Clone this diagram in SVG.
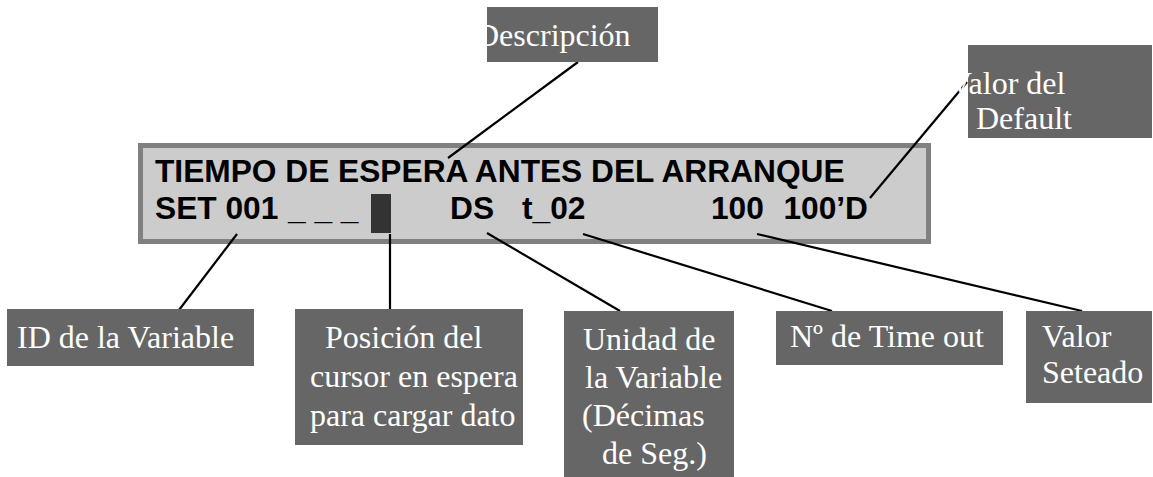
<svg xmlns="http://www.w3.org/2000/svg" width="1153" height="477" viewBox="0 0 1153 477">
<style>
.lbl{fill:#666666}
.lt{font-family:"Liberation Serif","Times New Roman",serif;font-size:32px;fill:#ffffff}
.lcd{font-family:"Liberation Sans",Arial,sans-serif;font-size:31.7px;font-weight:bold;fill:#000000}
.con line{stroke:#000000;stroke-width:2.2}
</style>
<rect width="1153" height="477" fill="#ffffff"/>
<g id="lcd">
<rect x="138" y="143" width="793" height="101" fill="#808080"/>
<rect x="143" y="148" width="783" height="91" fill="#cccccc"/>
<text class="lcd" x="155" y="182">TIEMPO DE ESPERA ANTES DEL ARRANQUE</text>
<text class="lcd" x="155" y="219">SET 001</text>
<text class="lcd" x="288" y="219">_ _ _</text>
<rect x="371" y="194" width="20" height="39" fill="#333333"/>
<text class="lcd" x="450" y="219">DS</text>
<text class="lcd" x="522" y="219">t_02</text>
<text class="lcd" x="711" y="219">100</text>
<text class="lcd" x="868" y="219" text-anchor="end">100’D</text>
</g>
<g class="con" id="connectors">
<line x1="578" y1="62" x2="448" y2="158"/>
<line x1="967" y1="82" x2="870" y2="198"/>
<line x1="237" y1="234" x2="179" y2="310"/>
<line x1="390" y1="234" x2="390" y2="310"/>
<line x1="487" y1="233" x2="620" y2="311"/>
<line x1="583" y1="234" x2="832" y2="311"/>
<line x1="757" y1="234" x2="1082" y2="311"/>
</g>
<g id="descripcion">
<rect class="lbl" x="487" y="7" width="171" height="55"/>
<text class="lt" x="476" y="46">Descripción</text>
</g>
<g id="valor-default">
<rect class="lbl" x="968" y="45" width="184" height="93"/>
<text class="lt" x="949" y="94">Valor del</text>
<text class="lt" x="976" y="129">Default</text>
</g>
<g id="id-variable">
<rect class="lbl" x="7" y="309" width="247" height="57"/>
<text class="lt" x="17" y="348">ID de la Variable</text>
</g>
<g id="posicion">
<rect class="lbl" x="295" y="309" width="228" height="136"/>
<text class="lt" x="325" y="348">Posición del</text>
<text class="lt" x="310" y="387">cursor en espera</text>
<text class="lt" x="310" y="426">para cargar dato</text>
</g>
<g id="unidad">
<rect class="lbl" x="564" y="311" width="170" height="166"/>
<text class="lt" x="583" y="350">Unidad de</text>
<text class="lt" x="585" y="388">la Variable</text>
<text class="lt" x="582" y="426">(Décimas</text>
<text class="lt" x="602" y="464">de Seg.)</text>
</g>
<g id="timeout">
<rect class="lbl" x="776" y="311" width="227" height="54"/>
<text class="lt" x="790" y="347">Nº de Time out</text>
</g>
<g id="valor-seteado">
<rect class="lbl" x="1026" y="311" width="126" height="92"/>
<text class="lt" x="1042" y="347">Valor</text>
<text class="lt" x="1042" y="383">Seteado</text>
</g>
</svg>
